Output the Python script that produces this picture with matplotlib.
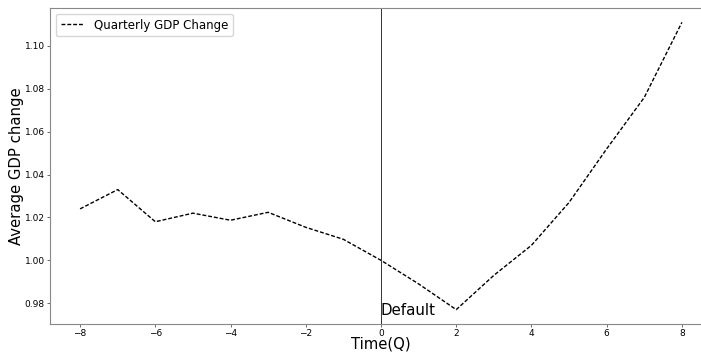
import matplotlib
matplotlib.use("Agg")
import matplotlib.pyplot as plt
import numpy as np

# quarters relative to default
quarters = list(range(-8, 9))
gdp_change = [1.024, 1.033, 1.018, 1.022, 1.0187, 1.0224, 1.0154, 1.0098, 1.000,
              0.989, 0.977, 0.993, 1.007, 1.027, 1.052, 1.076, 1.111]
legend_label = "Quarterly GDP Change"

fig = plt.figure(figsize=(7.01, 3.52), dpi=100)
ax = fig.add_axes([50 / 701, 28 / 352, 662 / 701, 316 / 352])

ax.plot(quarters, gdp_change, color="black", lw=1, dashes=(2.8, 1.4), label=legend_label)
ax.axvline(0, color="#333333", lw=0.7)
ax.text(0, 0.9765, "Default", fontsize=10.8, va="center", ha="left")

ax.set_xlabel("Time(Q)", fontsize=10.7)
ax.set_ylabel("Average GDP change", fontsize=10.7)
ax.xaxis.set_label_coords(0.5, -0.04)
ax.yaxis.set_label_coords(-0.039, 0.5)
ax.tick_params(labelsize=6.5, length=2.5, width=0.6, color="#555555", pad=1.2)
for s in ax.spines.values():
	s.set_color("#888888")
	s.set_linewidth(0.8)

ax.legend(loc="upper left", fontsize=8.5, handlelength=2)

fig.savefig("out.png", dpi=100)
